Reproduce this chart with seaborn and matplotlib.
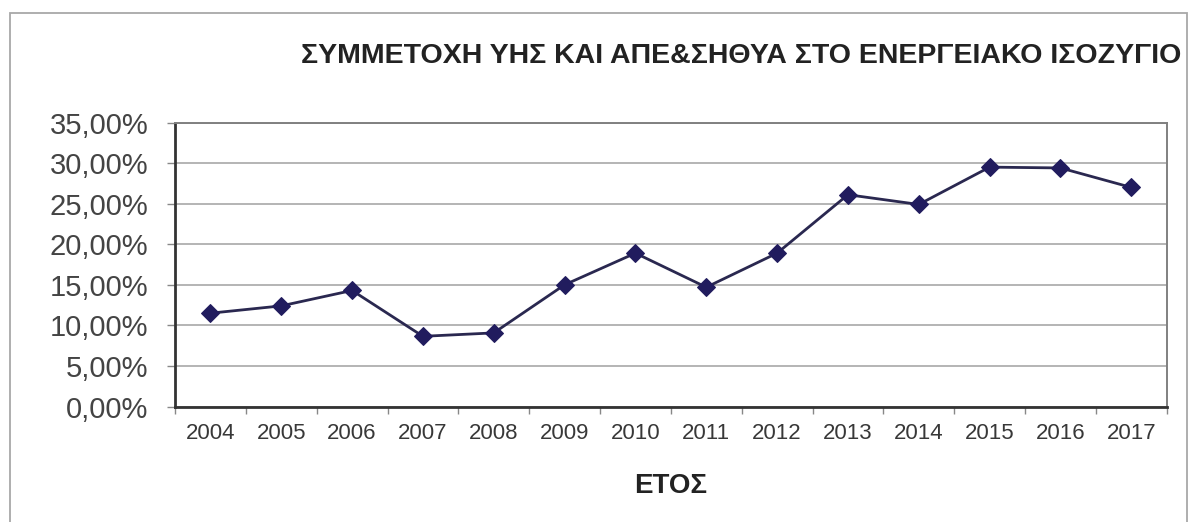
import numpy as np
import pandas as pd
import matplotlib
matplotlib.use("Agg")
import matplotlib.pyplot as plt
from matplotlib.patches import Rectangle
from matplotlib.ticker import FuncFormatter, FixedLocator
import seaborn as sns

# Share of renewables in the energy balance, per year (percent)
years = ["2004", "2005", "2006", "2007", "2008", "2009", "2010",
         "2011", "2012", "2013", "2014", "2015", "2016", "2017"]
share_pct = [11.5, 12.4, 14.3, 8.65, 9.07, 15.0, 18.9,
             14.7, 18.9, 26.1, 24.9, 29.5, 29.4, 27.0]
y_ticks_pct = [0, 5, 10, 15, 20, 25, 30, 35]

title_text = "ΣΥΜΜΕΤΟΧΗ ΥΗΣ ΚΑΙ ΑΠΕ&ΣΗΘΥΑ ΣΤΟ ΕΝΕΡΓΕΙΑΚΟ ΙΣΟΖΥΓΙΟ"
x_label = "ΕΤΟΣ"

df = pd.DataFrame({"year": years, "share": share_pct})

sns.set_style("white")
plt.rcParams["font.family"] = ["Liberation Sans", "DejaVu Sans"]

W, H = 1196, 522
fig = plt.figure(figsize=(W / 100, H / 100), dpi=100)
ax = fig.add_axes([175 / W, 1 - 406.5 / H, (1166.7 - 175) / W, (406.5 - 122.5) / H])

line_col = "#2a2850"
mark_col = "#211c5e"
sns.lineplot(data=df, x="year", y="share", ax=ax, sort=False,
             color=line_col, linewidth=2.0, marker="D", markersize=9.5,
             markerfacecolor=mark_col, markeredgecolor=mark_col)

ax.set_xlim(-0.5, len(years) - 0.5)
ax.set_ylim(0, 35)

# y axis: percent labels with a decimal comma, horizontal gridlines
ax.yaxis.set_major_locator(FixedLocator(y_ticks_pct))
ax.yaxis.set_major_formatter(FuncFormatter(lambda v, p: f"{v:.2f}".replace(".", ",") + "%"))
ax.grid(axis="y", color="#a0a0a0", linewidth=1.1)
ax.grid(axis="x", visible=False)
ax.tick_params(axis="y", which="major", direction="out", length=6, width=1,
               color="#888888", pad=13, labelsize=21, labelcolor="#444444", left=True)

# x axis: category labels with ticks between categories
ax.set_xticks(range(len(years)))
ax.set_xticklabels(years)
ax.set_xticks(np.arange(-0.5, len(years)), minor=True)
ax.tick_params(axis="x", which="major", length=0, pad=12, labelsize=16,
               labelcolor="#383838")
ax.tick_params(axis="x", which="minor", direction="out", length=5, width=1,
               color="#888888", bottom=True)

ax.set_ylabel("")
ax.set_xlabel(x_label, fontsize=20, fontweight="bold", color="#222222", va="center")
ax.xaxis.set_label_coords(0.5, -79.5 / 284)

for side in ("left", "bottom"):
    ax.spines[side].set_color("#333333")
    ax.spines[side].set_linewidth(2.0)
for side in ("top", "right"):
    ax.spines[side].set_color("#808080")
    ax.spines[side].set_linewidth(1.4)

fig.text(741.5 / W, 1 - 56 / H, title_text, ha="center", va="center",
         fontsize=20.5, fontweight="bold", color="#222222")

# outer chart frame
fig.patches.append(Rectangle((10 / W, -0.05), (1187 - 10) / W, 1 - 13.3 / H + 0.05,
                             transform=fig.transFigure, fill=False,
                             edgecolor="#a8a8a8", linewidth=1.3))

fig.savefig("out.png", dpi=100, facecolor="white")
